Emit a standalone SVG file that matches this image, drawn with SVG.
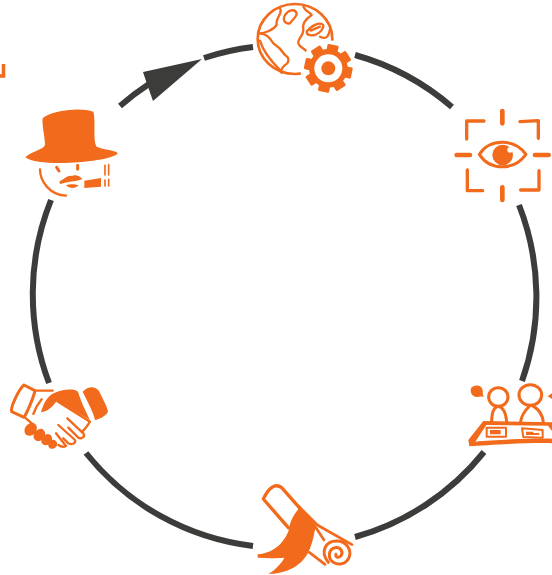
<svg xmlns="http://www.w3.org/2000/svg" width="552" height="575" viewBox="0 0 552 575">
<style>
.arc{fill:none;stroke:#3c3c3b;stroke-width:6}
.o{fill:#f26a1b}
.l{fill:none;stroke:#f26a1b;stroke-linecap:round;stroke-linejoin:round;stroke-width:9}
.w{fill:#fff}
</style>
<rect width="552" height="575" fill="#fff"/>
<g id="connectors">
<path class="arc" d="M120 106A252 252 0 0 1 149 84"/>
<path class="arc" d="M204 58A252 252 0 0 1 253 47"/>
<path class="arc" d="M355 55A252 252 0 0 1 452 107"/>
<path class="arc" d="M519 205A252 252 0 0 1 522 381"/>
<path class="arc" d="M484 452A252 252 0 0 1 355 537"/>
<path class="arc" d="M253 546A252 252 0 0 1 86 453"/>
<path class="arc" d="M49 383A252 252 0 0 1 51 200"/>
<polygon fill="#3c3c3b" points="202,59 143,72 147,84 153,101"/>
</g>
<g id="edge-fragment"><path fill="none" stroke="#f26a1b" stroke-width="3.5" d="M-1 76H3.5V64"/></g>
<g id="globe-gear" transform="translate(240 0) scale(.3333)">
<ellipse class="l" style="stroke-width:8" cx="165" cy="117" rx="112" ry="105"/>
<path class="l" style="stroke-width:7" d="M120 25C130 40 105 55 110 75C100 90 75 100 57 100C80 100 90 115 100 130C115 140 125 150 135 165C152 175 145 190 135 195C125 205 120 215 125 218M60 122C68 150 90 180 118 208M135 45C145 30 165 25 170 40C172 50 155 60 150 70C140 72 125 65 135 45ZM190 20C200 40 215 38 215 45C200 55 185 70 190 90C190 110 172 115 175 130C180 145 195 145 200 155M200 95C215 75 240 65 250 75C252 85 240 100 225 105C210 108 200 105 200 95ZM240 110C255 118 265 115 270 88M212 92L240 80"/>
<g transform="translate(265 205)">
<circle r="84" class="w"/>
<g class="o">
<circle r="58"/>
<rect x="-17" y="-72" width="34" height="144" rx="4" transform="rotate(12)"/>
<rect x="-17" y="-72" width="34" height="144" rx="4" transform="rotate(57)"/>
<rect x="-17" y="-72" width="34" height="144" rx="4" transform="rotate(102)"/>
<rect x="-17" y="-72" width="34" height="144" rx="4" transform="rotate(147)"/>
</g>
<circle r="42" class="w"/>
<circle r="21" class="o"/>
</g>
</g>
<g id="eye" transform="translate(440 100) scale(.3333)">
<path class="l" style="stroke-width:10" d="M132 63H80V117M240 65L295 62V115M82 210V272H128M297 212V270H242"/>
<path class="l" style="stroke-width:14" d="M187 33V70M187 262V300M50 165H90M285 165H326"/>
<path class="l" d="M118 163C150 115 222 115 258 163C222 213 150 213 118 163Z"/>
<circle class="o" cx="188" cy="165" r="31"/>
<circle class="w" cx="210" cy="150" r="8"/>
</g>
<g id="top-hat" transform="translate(0 40) scale(.3333)">
<path class="o" d="M128 235C150 212 240 200 280 215C288 240 278 300 290 320C310 330 350 330 353 340C340 365 120 385 76 352C90 335 130 330 135 315C135 290 125 255 128 235Z"/>
<path class="l" style="stroke-width:7" d="M120 388C120 425 150 465 198 467"/>
<path class="l" style="stroke-width:9" d="M170 382L177 393M233 376V388"/>
<path class="o" d="M178 425C195 415 205 405 215 408C225 403 240 408 247 418C225 425 205 425 180 432ZM198 436C215 430 225 433 236 436C225 447 210 447 198 436ZM253 422L303 414V440L253 444Z"/>
<path class="l" style="stroke-width:5" d="M315 376V405M326 374V405M315 420V438M326 418V438"/>
</g>
<g id="handshake" transform="translate(0 370) scale(.3333)">
<path class="l" d="M72 45L105 62C100 85 80 130 72 142L35 125C30 115 55 60 72 45Z"/>
<path class="o" d="M248 65C265 48 285 48 297 63C307 85 322 110 324 125C315 142 295 147 285 150C280 125 260 90 248 65Z"/>
<path class="o" d="M123 126C132 95 145 75 165 68C190 58 222 55 234 65C245 100 258 125 270 150L170 92C160 108 140 127 123 126Z"/>
<ellipse class="o" cx="92" cy="178" rx="17" ry="21" transform="rotate(40 92 178)"/>
<ellipse class="o" cx="118" cy="195" rx="16" ry="20" transform="rotate(40 118 195)"/>
<ellipse class="o" cx="140" cy="209" rx="15" ry="18" transform="rotate(40 140 209)"/>
<ellipse class="o" cx="158" cy="223" rx="13" ry="14" transform="rotate(40 158 223)"/>
<path class="l" style="stroke-width:7" d="M105 62H158M125 88C115 100 105 118 100 132M78 145L95 160M172 94L270 155C262 168 255 178 245 186M202 145L250 190C257 200 245 208 235 203L205 173M175 165L225 210C228 222 215 225 205 220L190 205M168 190L198 228C190 232 182 230 175 225"/>
</g>
<g id="scroll" transform="translate(240 475) scale(.3333)">
<path class="l" style="stroke-width:10" d="M180 100L125 38C105 22 85 40 70 72L145 158"/>
<path class="o" d="M180 96C160 120 150 140 148 160C140 190 110 235 53 238V248C80 250 110 250 133 248C125 265 105 285 85 297C130 297 180 280 205 232C220 200 222 175 228 150Z"/>
<path class="l" style="stroke-width:8" d="M178 96L232 150L336 209M208 232L255 268M228 158L252 195"/>
<path class="l" d="M265 262C240 232 255 198 290 198C320 198 335 225 328 245C320 268 295 272 280 262C262 250 265 222 285 218C302 215 312 232 302 243C295 250 285 246 288 238"/>
</g>
<g id="meeting" transform="translate(450 375) scale(.3333)">
<path class="o" d="M64 38C75 28 95 30 98 45C99 55 97 60 103 66C92 63 88 65 80 66C66 65 58 50 64 38Z"/>
<ellipse class="l" cx="145" cy="66" rx="29" ry="28"/>
<ellipse class="l" cx="241" cy="60" rx="34" ry="31"/>
<path class="l" d="M125 140C125 112 130 98 143 94C162 96 168 120 170 140M212 140C215 115 232 100 240 92M247 92C265 102 278 120 280 142"/>
<path class="o" d="M100 138L312 142V205C250 202 120 210 58 214L55 195Z"/>
<path class="w" d="M109 150L294 152L306 168V191C240 190 130 195 76 200Z"/>
<rect class="l" x="110" y="158" width="58" height="27" style="stroke-width:6"/>
<path class="l" d="M216 160L278 165V188L220 186Z" style="stroke-width:6"/>
<path class="o" d="M120 165H152V178H120ZM228 170H250V180H228ZM250 174H268V180H250Z"/>
<path class="o" d="M293 64L306 55V72Z"/>
</g>
</svg>
